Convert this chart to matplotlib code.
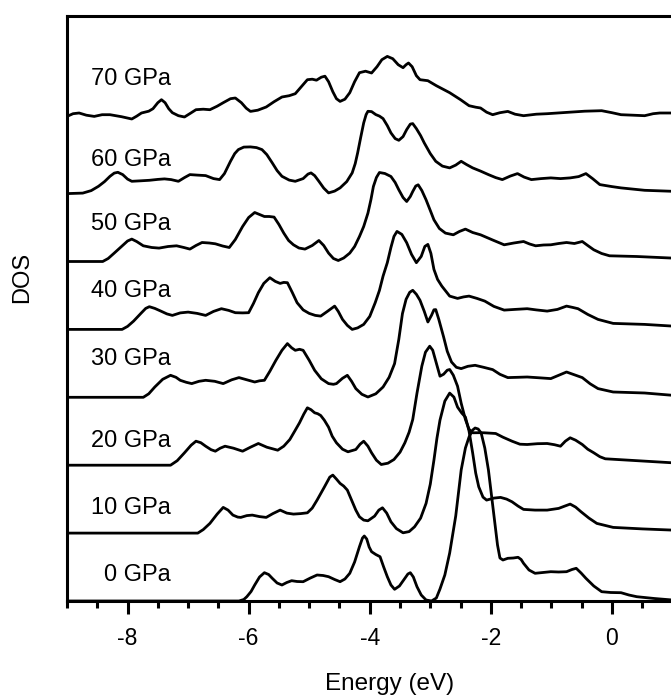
import numpy as np
import matplotlib
matplotlib.use("Agg")
import matplotlib.pyplot as plt
from matplotlib.ticker import MultipleLocator

plt.rcParams['font.family'] = ['Liberation Sans', 'DejaVu Sans']
plt.rcParams['axes.unicode_minus'] = False

# DOS curves: (energy in eV, DOS in arb. units)
pressures = [0, 10, 20, 30, 40, 50, 60, 70]

dos_0 = [(-9.0, 0), (-6.16, 0), (-6.08, 0.15), (-6.03, 0.43), (-5.96, 0.95), (-5.90, 1.6),
         (-5.82, 2.4), (-5.74, 2.83), (-5.67, 2.65), (-5.61, 2.27), (-5.53, 1.8), (-5.45, 1.6),
         (-5.37, 1.85), (-5.29, 2.03), (-5.20, 1.95), (-5.10, 1.93), (-4.98, 2.3), (-4.87, 2.6),
         (-4.77, 2.55), (-4.68, 2.43), (-4.58, 2.15), (-4.49, 1.93), (-4.41, 2.2), (-4.33, 2.77),
         (-4.25, 3.9), (-4.17, 5.43), (-4.12, 6.3), (-4.09, 6.5), (-4.05, 6.2), (-4.01, 5.4),
         (-3.97, 4.93), (-3.90, 4.65), (-3.83, 4.43), (-3.77, 3.4), (-3.71, 2.43), (-3.65, 1.6),
         (-3.59, 1.17), (-3.51, 1.5), (-3.42, 2.27), (-3.37, 2.7), (-3.33, 2.83), (-3.28, 2.4),
         (-3.22, 1.43), (-3.15, 0.6), (-3.07, 0.1), (-2.98, 0),
         (-2.90, 0.3), (-2.84, 1.2), (-2.76, 2.6), (-2.68, 4.8), (-2.58, 8.5), (-2.49, 13.1),
         (-2.42, 15.3), (-2.36, 16.4), (-2.30, 17.1), (-2.26, 17.3), (-2.21, 17.2), (-2.16, 16.8),
         (-2.10, 15.3), (-2.04, 13.1), (-1.99, 10.6), (-1.94, 8.1), (-1.89, 5.6), (-1.85, 4.3),
         (-1.80, 4.1), (-1.72, 4.27), (-1.63, 4.3), (-1.55, 4.37), (-1.50, 4.15), (-1.46, 3.77),
         (-1.37, 3.1), (-1.27, 2.77), (-1.14, 2.85), (-1.01, 2.93), (-0.88, 2.9), (-0.75, 2.93),
         (-0.66, 3.15), (-0.59, 3.27), (-0.51, 2.8), (-0.43, 2.27), (-0.30, 1.5), (-0.17, 0.93),
         (-0.02, 0.85), (0.15, 0.83), (0.28, 0.6), (0.41, 0.43), (0.7, 0.25), (1.0, 0.1)]

dos_10 = [(-9.0, 0), (-6.84, 0), (-6.75, 0.35), (-6.64, 0.97), (-6.52, 1.9), (-6.42, 2.57),
          (-6.34, 2.3), (-6.26, 1.8), (-6.18, 1.6), (-6.13, 1.57), (-6.03, 1.75), (-5.94, 1.8),
          (-5.82, 1.65), (-5.71, 1.57), (-5.60, 1.95), (-5.48, 2.3), (-5.37, 2.0), (-5.26, 1.9),
          (-5.14, 1.95), (-5.03, 2.03), (-4.95, 2.5), (-4.87, 3.3), (-4.75, 4.6), (-4.66, 5.6),
          (-4.61, 5.8), (-4.55, 5.4), (-4.49, 4.97), (-4.43, 4.7), (-4.37, 4.3), (-4.30, 3.3),
          (-4.23, 2.3), (-4.17, 1.63), (-4.10, 1.3), (-4.03, 1.23), (-3.92, 1.7), (-3.85, 2.3),
          (-3.79, 2.53), (-3.72, 2.0), (-3.65, 1.13), (-3.56, 0.45), (-3.45, 0.03), (-3.35, 0.15),
          (-3.26, 0.63), (-3.16, 1.5), (-3.07, 2.97), (-3.00, 4.9), (-2.94, 7.3), (-2.89, 9.5),
          (-2.84, 11.3), (-2.76, 13.2), (-2.68, 14.0), (-2.61, 13.6), (-2.55, 12.6), (-2.48, 12.0),
          (-2.42, 11.6), (-2.36, 10.2), (-2.30, 8.0), (-2.25, 6.0), (-2.20, 4.63), (-2.13, 3.6),
          (-2.07, 3.3), (-1.95, 3.5), (-1.84, 3.57), (-1.74, 3.4), (-1.65, 3.13), (-1.55, 2.7),
          (-1.46, 2.37), (-1.27, 2.3), (-1.07, 2.3), (-0.88, 2.47), (-0.78, 2.7), (-0.69, 2.9),
          (-0.60, 2.6), (-0.51, 2.13), (-0.38, 1.5), (-0.25, 0.97), (0.02, 0.57), (0.5, 0.42),
          (1.0, 0.3)]

dos_20 = [(-9.0, 0), (-7.29, 0), (-7.18, 0.45), (-7.06, 1.24), (-6.95, 2.0), (-6.87, 2.4),
          (-6.79, 2.25), (-6.71, 1.9), (-6.62, 1.55), (-6.55, 1.4), (-6.47, 1.7), (-6.39, 1.9),
          (-6.25, 1.7), (-6.10, 1.4), (-5.97, 1.8), (-5.84, 2.17), (-5.70, 1.8), (-5.52, 1.5),
          (-5.42, 1.9), (-5.32, 2.57), (-5.24, 3.4), (-5.16, 4.24), (-5.09, 5.1), (-5.03, 5.74),
          (-4.97, 5.55), (-4.91, 5.24), (-4.86, 5.15), (-4.81, 4.97), (-4.75, 4.5), (-4.68, 3.8),
          (-4.62, 2.9), (-4.55, 2.24), (-4.45, 1.6), (-4.36, 1.34), (-4.23, 1.57), (-4.16, 2.1),
          (-4.10, 2.4), (-4.03, 1.9), (-3.97, 1.24), (-3.89, 0.5), (-3.81, 0.07), (-3.70, 0.2),
          (-3.60, 0.57), (-3.50, 1.3), (-3.42, 2.24), (-3.35, 3.3), (-3.29, 4.57), (-3.22, 7.2),
          (-3.14, 9.9), (-3.08, 11.3), (-3.01, 11.9), (-2.96, 11.5), (-2.90, 10.2), (-2.84, 8.9),
          (-2.78, 9.1), (-2.72, 9.5), (-2.68, 9.57), (-2.62, 9.0), (-2.55, 7.9), (-2.49, 6.2),
          (-2.42, 4.57), (-2.36, 3.6), (-2.30, 3.24), (-2.20, 3.25), (-2.11, 3.24), (-2.0, 3.2),
          (-1.92, 3.17), (-1.80, 2.8), (-1.65, 2.4), (-1.52, 2.1), (-1.40, 2.07), (-1.23, 2.15),
          (-1.07, 2.17), (-0.95, 2.05), (-0.85, 1.9), (-0.77, 2.4), (-0.69, 2.74), (-0.60, 2.5),
          (-0.49, 2.07), (-0.40, 1.6), (-0.30, 1.24), (-0.20, 0.85), (-0.11, 0.64), (0.28, 0.5),
          (1.0, 0.24)]

dos_30 = [(-9.0, 0), (-7.74, 0), (-7.65, 0.35), (-7.55, 1.03), (-7.42, 1.8), (-7.29, 2.2),
          (-7.20, 2.0), (-7.13, 1.7), (-7.03, 1.5), (-6.94, 1.37), (-6.82, 1.6), (-6.71, 1.7),
          (-6.56, 1.6), (-6.42, 1.37), (-6.28, 1.75), (-6.16, 1.97), (-6.03, 1.75), (-5.90, 1.53),
          (-5.82, 1.65), (-5.74, 1.7), (-5.65, 2.6), (-5.55, 3.7), (-5.45, 4.7), (-5.36, 5.37),
          (-5.29, 4.95), (-5.23, 4.7), (-5.16, 4.8), (-5.10, 4.7), (-5.0, 3.7), (-4.91, 2.7),
          (-4.80, 1.85), (-4.68, 1.37), (-4.60, 1.3), (-4.55, 1.37), (-4.45, 1.9), (-4.37, 2.2),
          (-4.30, 1.6), (-4.23, 0.87), (-4.13, 0.3), (-4.03, 0.03), (-3.90, 0.35), (-3.78, 1.03),
          (-3.68, 2.0), (-3.59, 3.37), (-3.52, 5.8), (-3.46, 8.37), (-3.40, 9.8), (-3.34, 10.5),
          (-3.29, 10.7), (-3.23, 10.3), (-3.17, 9.7), (-3.10, 8.6), (-3.04, 7.53), (-2.98, 8.2),
          (-2.94, 8.75), (-2.91, 8.77), (-2.86, 7.8), (-2.78, 6.03), (-2.72, 4.6), (-2.65, 3.53),
          (-2.57, 3.0), (-2.49, 2.87), (-2.38, 3.1), (-2.26, 3.2), (-2.12, 3.0), (-1.97, 2.77),
          (-1.85, 2.3), (-1.72, 1.97), (-1.55, 2.0), (-1.40, 2.03), (-1.20, 1.95), (-1.01, 1.87),
          (-0.88, 2.2), (-0.75, 2.53), (-0.62, 2.25), (-0.49, 1.97), (-0.36, 1.35), (-0.23, 0.87),
          (0.02, 0.53), (0.54, 0.43), (1.0, 0.2)]

dos_40 = [(-9.0, 0), (-8.09, 0), (-8.0, 0.3), (-7.90, 0.83), (-7.78, 1.6), (-7.70, 2.1),
          (-7.64, 2.27), (-7.55, 2.1), (-7.45, 1.83), (-7.35, 1.55), (-7.26, 1.4), (-7.13, 1.65),
          (-7.0, 1.73), (-6.85, 1.6), (-6.71, 1.4), (-6.58, 1.8), (-6.45, 2.07), (-6.33, 1.9),
          (-6.22, 1.67), (-6.10, 1.65), (-6.0, 1.67), (-5.92, 2.6), (-5.84, 3.67), (-5.75, 4.6),
          (-5.65, 5.17), (-5.56, 4.8), (-5.48, 4.6), (-5.42, 4.7), (-5.36, 4.67), (-5.28, 3.7),
          (-5.20, 2.67), (-5.10, 1.95), (-5.0, 1.6), (-4.90, 1.4), (-4.81, 1.33), (-4.70, 1.8),
          (-4.58, 2.33), (-4.52, 1.8), (-4.45, 1.0), (-4.37, 0.4), (-4.29, 0), (-4.20, 0.15),
          (-4.10, 0.5), (-4.0, 1.3), (-3.91, 2.67), (-3.84, 3.9), (-3.78, 5.33), (-3.71, 6.67),
          (-3.65, 8.2), (-3.60, 9.3), (-3.55, 9.8), (-3.47, 9.5), (-3.39, 8.67), (-3.31, 7.5),
          (-3.23, 6.67), (-3.15, 7.3), (-3.09, 8.3), (-3.04, 8.5), (-2.99, 7.6), (-2.94, 6.0),
          (-2.88, 5.0), (-2.81, 4.33), (-2.68, 3.33), (-2.55, 3.1), (-2.45, 3.25), (-2.36, 3.33),
          (-2.23, 3.1), (-2.10, 2.83), (-1.95, 2.3), (-1.78, 1.93), (-1.60, 2.0), (-1.40, 2.07),
          (-1.25, 1.95), (-1.07, 1.83), (-0.90, 2.0), (-0.75, 2.33), (-0.65, 2.2), (-0.56, 2.07),
          (-0.40, 1.5), (-0.23, 1.0), (0.02, 0.6), (0.54, 0.5), (1.0, 0.33)]

dos_50 = [(-9.0, 0), (-8.41, 0), (-8.32, 0.3), (-8.22, 0.84), (-8.10, 1.5), (-8.0, 2.05),
          (-7.93, 2.24), (-7.85, 2.0), (-7.74, 1.57), (-7.60, 1.4), (-7.48, 1.34), (-7.33, 1.5),
          (-7.19, 1.57), (-7.07, 1.4), (-6.97, 1.24), (-6.87, 1.6), (-6.77, 1.9), (-6.65, 1.85),
          (-6.55, 1.77), (-6.43, 1.55), (-6.32, 1.4), (-6.22, 2.2), (-6.10, 3.5), (-6.0, 4.4),
          (-5.90, 4.9), (-5.82, 4.7), (-5.74, 4.5), (-5.66, 4.5), (-5.58, 4.44), (-5.50, 3.7),
          (-5.42, 2.84), (-5.34, 2.1), (-5.26, 1.67), (-5.17, 1.35), (-5.07, 1.24), (-4.95, 1.6),
          (-4.84, 2.1), (-4.76, 1.6), (-4.68, 0.84), (-4.60, 0.3), (-4.52, 0.1), (-4.43, 0.35),
          (-4.33, 0.84), (-4.25, 1.5), (-4.17, 2.5), (-4.10, 3.5), (-4.03, 4.84), (-3.98, 6.2),
          (-3.94, 7.5), (-3.89, 8.4), (-3.84, 8.9), (-3.75, 8.8), (-3.65, 8.5), (-3.58, 7.9),
          (-3.52, 7.17), (-3.45, 6.4), (-3.39, 6.0), (-3.33, 6.5), (-3.29, 7.0), (-3.24, 7.55),
          (-3.20, 7.67), (-3.14, 7.1), (-3.07, 6.17), (-3.0, 5.1), (-2.94, 4.17), (-2.85, 3.3),
          (-2.75, 2.84), (-2.62, 2.67), (-2.52, 3.0), (-2.42, 3.24), (-2.30, 2.9), (-2.17, 2.67),
          (-1.97, 2.15), (-1.78, 1.67), (-1.62, 1.85), (-1.46, 2.0), (-1.36, 1.75), (-1.26, 1.57),
          (-1.13, 1.65), (-1.01, 1.67), (-0.88, 1.8), (-0.75, 1.9), (-0.62, 1.8), (-0.49, 2.0),
          (-0.40, 1.6), (-0.30, 1.17), (-0.17, 0.8), (-0.04, 0.57), (0.41, 0.5), (1.0, 0.34)]

dos_60 = [(-9.0, 0), (-8.74, 0.05), (-8.60, 0.3), (-8.48, 0.73), (-8.38, 1.2), (-8.29, 1.73),
          (-8.22, 2.05), (-8.16, 2.13), (-8.08, 1.9), (-8.0, 1.45), (-7.93, 1.23), (-7.78, 1.28),
          (-7.64, 1.33), (-7.50, 1.42), (-7.39, 1.47), (-7.28, 1.4), (-7.16, 1.23), (-7.06, 1.6),
          (-6.97, 1.9), (-6.85, 1.85), (-6.71, 1.8), (-6.58, 1.5), (-6.48, 1.4), (-6.40, 2.0),
          (-6.30, 3.23), (-6.23, 4.0), (-6.17, 4.4), (-6.08, 4.65), (-5.97, 4.67), (-5.87, 4.6),
          (-5.78, 4.4), (-5.70, 3.9), (-5.61, 3.07), (-5.53, 2.3), (-5.45, 1.73), (-5.33, 1.35),
          (-5.23, 1.23), (-5.10, 1.5), (-5.02, 1.95), (-4.97, 2.07), (-4.91, 1.8), (-4.84, 1.23),
          (-4.76, 0.55), (-4.68, 0.07), (-4.58, 0.25), (-4.49, 0.57), (-4.38, 1.2), (-4.29, 2.07),
          (-4.24, 3.0), (-4.20, 4.07), (-4.15, 5.6), (-4.10, 7.07), (-4.06, 7.9), (-4.03, 8.23),
          (-3.97, 8.2), (-3.90, 7.9), (-3.84, 7.75), (-3.78, 7.5), (-3.71, 6.8), (-3.65, 6.07),
          (-3.58, 5.5), (-3.52, 5.33), (-3.45, 5.7), (-3.39, 6.4), (-3.33, 6.95), (-3.29, 7.0),
          (-3.23, 6.5), (-3.16, 5.8), (-3.10, 5.07), (-3.0, 4.0), (-2.91, 3.23), (-2.80, 2.75),
          (-2.68, 2.57), (-2.58, 2.85), (-2.49, 3.23), (-2.40, 2.9), (-2.30, 2.57), (-2.17, 2.25),
          (-2.04, 1.9), (-1.92, 1.6), (-1.81, 1.4), (-1.68, 1.75), (-1.56, 2.0), (-1.45, 1.65),
          (-1.33, 1.4), (-1.17, 1.5), (-1.01, 1.57), (-0.85, 1.5), (-0.69, 1.57), (-0.55, 1.7),
          (-0.43, 2.0), (-0.32, 1.5), (-0.20, 0.9), (0.0, 0.7), (0.15, 0.57), (0.54, 0.33),
          (1.0, 0.23)]

dos_70 = [(-9.0, 0.93), (-8.9, 1.2), (-8.8, 1.27), (-8.68, 1.05), (-8.55, 0.93), (-8.42, 1.1),
          (-8.29, 1.1), (-8.1, 0.9), (-7.93, 0.67), (-7.85, 0.95), (-7.77, 1.27), (-7.65, 1.45),
          (-7.58, 1.7), (-7.50, 2.3), (-7.44, 2.6), (-7.38, 2.3), (-7.32, 1.7), (-7.26, 1.3),
          (-7.16, 1.0), (-7.06, 0.87), (-6.96, 1.25), (-6.87, 1.6), (-6.75, 1.65), (-6.64, 1.6),
          (-6.52, 1.95), (-6.42, 2.3), (-6.30, 2.7), (-6.22, 2.77), (-6.12, 2.3), (-6.04, 1.75),
          (-5.97, 1.43), (-5.85, 1.55), (-5.71, 1.87), (-5.58, 2.4), (-5.45, 2.87), (-5.33, 3.0),
          (-5.23, 3.2), (-5.13, 3.9), (-5.03, 4.6), (-4.95, 4.65), (-4.88, 4.55), (-4.80, 4.85),
          (-4.74, 4.95), (-4.68, 4.4), (-4.61, 3.4), (-4.55, 2.7), (-4.49, 2.43), (-4.41, 2.65),
          (-4.33, 3.3), (-4.25, 4.4), (-4.17, 5.3), (-4.07, 5.45), (-3.97, 5.27), (-3.88, 5.9),
          (-3.80, 6.6), (-3.71, 6.93), (-3.62, 6.7), (-3.53, 6.1), (-3.45, 5.8), (-3.40, 6.1),
          (-3.36, 6.27), (-3.30, 5.9), (-3.23, 5.0), (-3.17, 4.6), (-3.04, 4.5), (-2.90, 4.0),
          (-2.68, 3.3), (-2.50, 2.6), (-2.36, 2.0), (-2.25, 1.85), (-2.17, 1.77), (-2.07, 1.35),
          (-1.97, 1.1), (-1.85, 1.3), (-1.72, 1.43), (-1.60, 1.15), (-1.46, 1.0), (-1.25, 1.15),
          (-1.07, 1.2), (-0.75, 1.33), (-0.45, 1.45), (-0.17, 1.5), (0.0, 1.3), (0.15, 1.1),
          (0.35, 1.05), (0.54, 1.0), (0.68, 1.2), (0.79, 1.27), (1.0, 1.27)]

curves = [dos_0, dos_10, dos_20, dos_30, dos_40, dos_50, dos_60, dos_70]
offset_step = 6.79
label_dy = [2.6, 2.5, 2.4, 3.8, 3.8, 3.7, 3.4, 4.7]

fig = plt.figure(figsize=(6.71, 6.99), dpi=100)
ax = fig.add_axes([67 / 671, 98 / 699, 605.5 / 671, 585 / 699])

for i, (p, c) in enumerate(zip(pressures, curves)):
    arr = np.array(c)
    off = i * offset_step
    ax.plot(arr[:, 0], arr[:, 1] + off, color='black', lw=2.0,
            solid_joinstyle='round', solid_capstyle='round')
    ax.text(-7.28, off + label_dy[i], f"{p} GPa", ha='right', va='center', fontsize=17)

ax.set_xlim(-9, 1)
ax.set_ylim(0, 58.5)
ax.set_yticks([])
ax.xaxis.set_major_locator(MultipleLocator(2))
ax.xaxis.set_minor_locator(MultipleLocator(0.5))
ax.tick_params(axis='x', which='major', direction='out', length=9, width=2.2, labelsize=16.5, pad=10)
ax.tick_params(axis='x', which='minor', direction='out', length=5, width=2.2)
for s in ax.spines.values():
    s.set_linewidth(2.2)

fig.text(390 / 671, 1 - 684 / 699, "Energy (eV)", ha='center', va='center', fontsize=17.5)
fig.text(22 / 671, 1 - 277 / 699, "DOS", ha='center', va='center', rotation=90, fontsize=17)

fig.savefig("out.png", dpi=100)
